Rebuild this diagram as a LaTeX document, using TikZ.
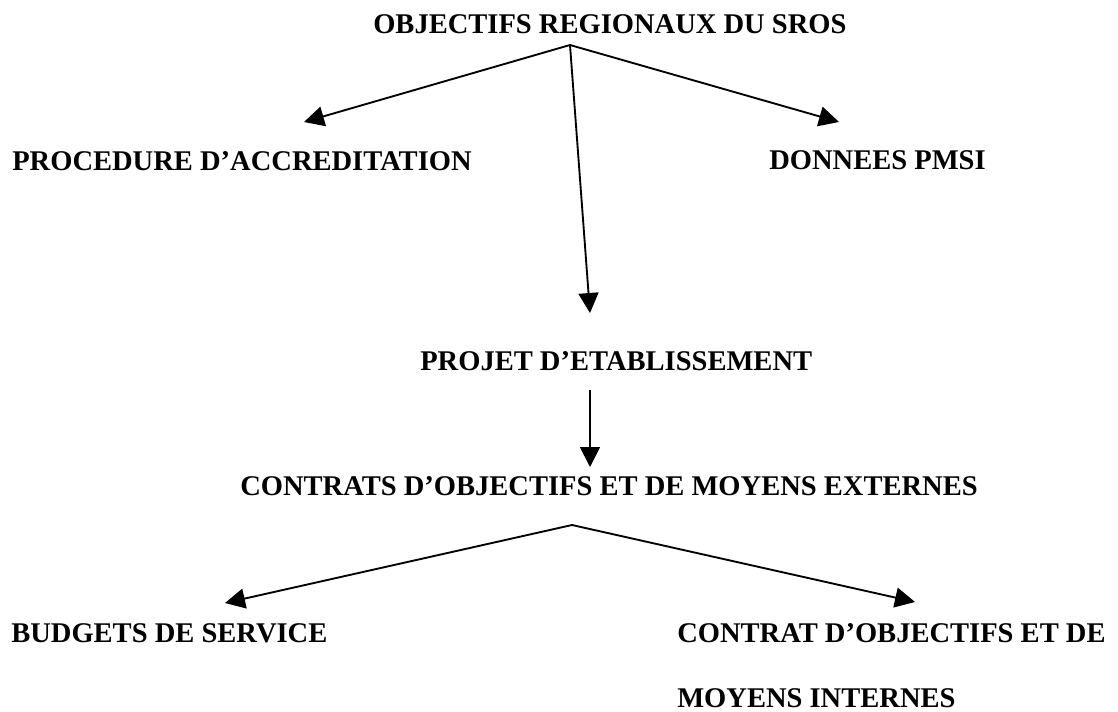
\documentclass[tikz,border=0pt]{standalone}
\usepackage{fontspec}
\setmainfont{Liberation Serif}
\usepackage{tikz}
\usetikzlibrary{arrows.meta, positioning}

\begin{document}
\begin{tikzpicture}[
  x=0.75pt, y=-0.75pt,
  lbl/.style={inner sep=0pt, anchor=base west, align=left,
              font=\fontsize{21.4}{48.75}\selectfont\bfseries},
  arr/.style={-{Triangle[length=15pt, width=15pt]}, line width=1.4pt}
]
  \useasboundingbox (0,0) rectangle (1118,711);

  % labels
  \node[lbl] (sros)   at (373,33)  {OBJECTIFS REGIONAUX DU SROS};
  \node[lbl] (accred) at (12,170)  {PROCEDURE D’ACCREDITATION};
  \node[lbl] (pmsi)   at (769,169) {DONNEES PMSI};
  \node[lbl] (projet) at (420,370) {PROJET D’ETABLISSEMENT};
  \node[lbl] (cpomx)  at (240,495) {CONTRATS D’OBJECTIFS ET DE MOYENS EXTERNES};
  \node[lbl] (budget) at (11,642)  {BUDGETS DE SERVICE};
  \node[lbl] (cpomi)  at (677,707) {CONTRAT D’OBJECTIFS ET DE\\MOYENS INTERNES};

  % arrow ends
  \coordinate (top)  at (570,45);
  \coordinate (toL)  at (304,122);
  \coordinate (toR)  at (839,122);
  \coordinate (toP)  at (590,313);
  \coordinate (pOut) at (590,390);
  \coordinate (toC)  at (590,467);
  \coordinate (mid)  at (572,525);
  \coordinate (toB)  at (225,603);
  \coordinate (toI)  at (915,602);

  \draw[arr] (top)  -- (toL);
  \draw[arr] (top)  -- (toR);
  \draw[arr] (top)  -- (toP);
  \draw[arr] (pOut) -- (toC);
  \draw[arr] (mid)  -- (toB);
  \draw[arr] (mid)  -- (toI);
\end{tikzpicture}
\end{document}
